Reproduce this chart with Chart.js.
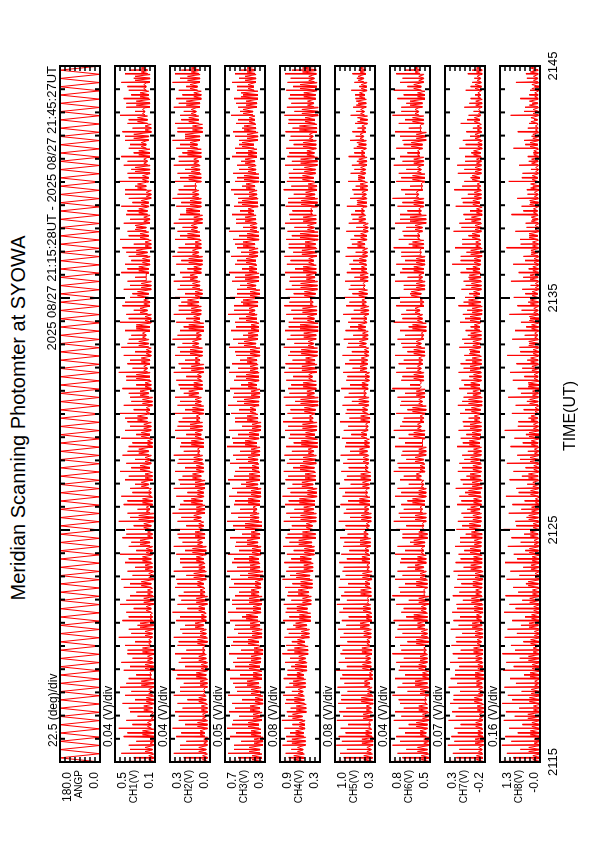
<!DOCTYPE html>
<html><head><meta charset="utf-8">
<script src="https://cdn.jsdelivr.net/npm/chart.js@4.4.0/dist/chart.umd.min.js"></script>
<style>
html,body{margin:0;padding:0;background:#fff;width:595px;height:842px;overflow:hidden;}
#land{position:absolute;left:0;top:0;width:842px;height:595px;transform-origin:0 0;transform:translateY(842px) rotate(-90deg);font-family:"Liberation Sans",Arial,sans-serif;color:#000;background:#fff;}
.t{position:absolute;white-space:nowrap;line-height:1;}
canvas{position:absolute;}
</style></head><body><div id="land"></div>
<script>
// ---- data (time in minutes after 21:15 UT) ----
const timeStart = 0, timeEnd = 30;
const scanCount = 84;
const timeTickLabels = ['2115','2125','2135','2145'];
const timeTickValues = [0, 10, 20, 30];
const title = 'Meridian Scanning Photomter at SYOWA';
const periodLabel = '2025 08/27 21:15:28UT - 2025 08/27 21:45:27UT';
const xTitle = 'TIME(UT)';
const panelNames = ['ANGP','CH1(V)','CH2(V)','CH3(V)','CH4(V)','CH5(V)','CH6(V)','CH7(V)','CH8(V)'];
const divLabels = ['22.5 (deg)/div','0.04 (V)/div','0.04 (V)/div','0.05 (V)/div','0.08 (V)/div','0.08 (V)/div','0.04 (V)/div','0.07 (V)/div','0.16 (V)/div'];
const maxLabels = ['180.0','0.5','0.3','0.7','0.9','1.0','0.8','0.3','1.3'];
const minLabels = ['0.0','0.1','0.0','0.3','0.3','0.3','0.5','-0.2','-0.0'];
const panelMin = [0, 0.14, 0.00, 0.30, 0.30, 0.34, 0.50, -0.24, -0.01];
const panelMax = [180, 0.46, 0.32, 0.70, 0.94, 0.98, 0.82, 0.32, 1.27];
const panelDivs = [8, 8, 8, 8, 8, 8, 8, 8, 8];

// scan angle (deg), two samples per scan + final
const angp = [0,180,0,180,0,180,0,180,0,180,0,180,0,180,0,180,0,180,0,180,0,180,0,180,
0,180,0,180,0,180,0,180,0,180,0,180,0,180,0,180,0,180,0,180,0,180,0,180,
0,180,0,180,0,180,0,180,0,180,0,180,0,180,0,180,0,180,0,180,0,180,0,180,
0,180,0,180,0,180,0,180,0,180,0,180,0,180,0,180,0,180,0,180,0,180,0,180,
0,180,0,180,0,180,0,180,0,180,0,180,0,180,0,180,0,180,0,180,0,180,0,180,
0,180,0,180,0,180,0,180,0,180,0,180,0,180,0,180,0,180,0,180,0,180,0,180,
0,180,0,180,0,180,0,180,0,180,0,180,0,180,0,180,0,180,0,180,0,180,0,180,0];

// per scan: north-horizon peak (Hi), south-horizon peak (S), overhead hump (Mid), floor (Lo)
const ch1Hi = [0.36,0.41,0.35,0.39,0.43,0.37,0.34,0.40,0.38,0.42,0.35,0.39,0.41,0.36,0.38,0.43,0.35,0.40,0.37,0.42,0.34,0.39,0.41,0.36,0.38,0.42,0.35,0.40,0.37,0.43,0.36,0.39,0.41,0.34,0.38,0.42,0.37,0.40,0.35,0.41,0.38,0.36,0.42,0.39,0.34,0.40,0.37,0.43,0.36,0.39,0.41,0.35,0.38,0.42,0.37,0.40,0.34,0.39,0.36,0.41,0.38,0.35,0.40,0.42,0.36,0.39,0.37,0.41,0.35,0.38,0.43,0.36,0.39,0.41,0.35,0.38,0.40,0.36,0.42,0.37,0.39,0.35,0.41,0.38];
const ch1S = [0.31,0.34,0.29,0.36,0.32,0.28,0.35,0.30,0.33,0.37,0.29,0.34,0.32,0.36,0.30,0.33,0.28,0.35,0.31,0.37,0.29,0.34,0.32,0.30,0.35,0.29,0.33,0.37,0.31,0.34,0.28,0.36,0.32,0.30,0.35,0.33,0.30,0.36,0.32,0.29,0.34,0.38,0.31,0.33,0.35,0.29,0.37,0.32,0.34,0.30,0.36,0.33,0.29,0.35,0.31,0.38,0.32,0.34,0.30,0.36,0.33,0.37,0.31,0.35,0.29,0.34,0.36,0.32,0.38,0.30,0.35,0.33,0.36,0.31,0.34,0.38,0.32,0.35,0.30,0.37,0.33,0.36,0.31,0.34];
const ch1Mid = [0.19,0.22,0.18,0.24,0.20,0.17,0.23,0.21,0.19,0.25,0.18,0.22,0.20,0.24,0.19,0.22,0.26,0.18,0.21,0.23,0.20,0.25,0.19,0.22,0.24,0.21,0.26,0.20,0.23,0.27,0.21,0.24,0.19,0.25,0.22,0.26,0.22,0.27,0.20,0.25,0.23,0.28,0.21,0.24,0.26,0.22,0.29,0.23,0.25,0.21,0.27,0.24,0.29,0.22,0.26,0.23,0.28,0.25,0.21,0.27,0.24,0.29,0.22,0.26,0.30,0.23,0.27,0.25,0.21,0.28,0.24,0.30,0.23,0.27,0.25,0.31,0.22,0.28,0.24,0.29,0.26,0.23,0.30,0.25];
const ch1Lo = [0.15,0.16,0.15,0.15,0.17,0.15,0.16,0.15,0.16,0.15,0.17,0.15,0.16,0.15,0.17,0.16,0.15,0.16,0.17,0.15,0.16,0.17,0.15,0.16,0.17,0.16,0.18,0.16,0.17,0.15,0.18,0.16,0.17,0.19,0.16,0.18,0.17,0.19,0.16,0.18,0.17,0.20,0.18,0.16,0.19,0.17,0.18,0.20,0.18,0.17,0.19,0.21,0.18,0.17,0.20,0.18,0.19,0.17,0.21,0.19,0.18,0.20,0.17,0.19,0.21,0.18,0.20,0.19,0.17,0.21,0.19,0.18,0.20,0.18,0.21,0.19,0.17,0.20,0.22,0.18,0.19,0.21,0.18,0.20];

const ch2Hi = [0.26,0.29,0.24,0.27,0.30,0.25,0.28,0.26,0.29,0.24,0.27,0.30,0.25,0.28,0.26,0.29,0.24,0.27,0.30,0.26,0.25,0.28,0.27,0.29,0.24,0.27,0.29,0.25,0.28,0.26,0.30,0.24,0.27,0.29,0.25,0.28,0.26,0.29,0.24,0.27,0.28,0.25,0.30,0.26,0.28,0.24,0.27,0.29,0.25,0.28,0.26,0.30,0.24,0.27,0.29,0.25,0.28,0.26,0.29,0.24,0.27,0.30,0.25,0.28,0.26,0.29,0.24,0.27,0.30,0.25,0.28,0.26,0.29,0.25,0.27,0.30,0.26,0.28,0.24,0.29,0.27,0.25,0.30,0.28];
const ch2S = [0.21,0.24,0.19,0.23,0.20,0.25,0.22,0.18,0.24,0.21,0.26,0.20,0.23,0.19,0.25,0.22,0.20,0.24,0.18,0.23,0.21,0.26,0.19,0.22,0.24,0.20,0.22,0.26,0.19,0.23,0.25,0.21,0.18,0.24,0.22,0.20,0.25,0.21,0.23,0.19,0.26,0.22,0.20,0.24,0.21,0.25,0.19,0.23,0.20,0.24,0.22,0.26,0.21,0.19,0.25,0.23,0.20,0.24,0.22,0.18,0.23,0.26,0.20,0.24,0.22,0.25,0.19,0.23,0.26,0.21,0.24,0.20,0.25,0.22,0.24,0.20,0.26,0.23,0.21,0.25,0.22,0.19,0.24,0.23];
const ch2Mid = [0.06,0.09,0.05,0.08,0.10,0.06,0.07,0.09,0.05,0.08,0.11,0.07,0.09,0.06,0.10,0.08,0.12,0.07,0.09,0.11,0.08,0.10,0.13,0.09,0.11,0.14,0.10,0.12,0.09,0.13,0.11,0.15,0.10,0.12,0.14,0.11,0.13,0.10,0.15,0.12,0.16,0.11,0.14,0.12,0.17,0.13,0.10,0.15,0.12,0.16,0.14,0.11,0.17,0.13,0.15,0.18,0.12,0.14,0.16,0.13,0.17,0.14,0.12,0.18,0.15,0.13,0.19,0.16,0.14,0.12,0.17,0.15,0.13,0.18,0.16,0.20,0.14,0.17,0.15,0.19,0.13,0.16,0.18,0.15];
const ch2Lo = [0.02,0.03,0.02,0.04,0.02,0.03,0.02,0.03,0.04,0.02,0.03,0.02,0.03,0.04,0.02,0.03,0.05,0.03,0.04,0.02,0.04,0.05,0.03,0.04,0.05,0.03,0.06,0.04,0.05,0.07,0.04,0.06,0.05,0.04,0.07,0.05,0.06,0.08,0.05,0.07,0.06,0.08,0.05,0.07,0.09,0.06,0.07,0.05,0.08,0.06,0.09,0.07,0.05,0.08,0.07,0.09,0.06,0.08,0.10,0.07,0.06,0.09,0.07,0.08,0.10,0.06,0.08,0.07,0.09,0.11,0.07,0.08,0.09,0.07,0.10,0.08,0.06,0.09,0.11,0.08,0.07,0.10,0.08,0.09];

const ch3Hi = [0.64,0.67,0.61,0.65,0.68,0.62,0.66,0.63,0.67,0.60,0.65,0.68,0.62,0.66,0.64,0.68,0.61,0.65,0.67,0.63,0.60,0.66,0.64,0.68,0.63,0.67,0.60,0.65,0.62,0.68,0.64,0.61,0.66,0.63,0.67,0.60,0.65,0.62,0.68,0.63,0.66,0.60,0.64,0.67,0.62,0.65,0.61,0.66,0.63,0.59,0.66,0.62,0.64,0.60,0.67,0.61,0.65,0.58,0.63,0.66,0.60,0.64,0.58,0.62,0.66,0.59,0.63,0.61,0.57,0.64,0.60,0.62,0.58,0.63,0.60,0.56,0.62,0.59,0.64,0.57,0.61,0.58,0.63,0.60];
const ch3S = [0.57,0.61,0.54,0.59,0.63,0.56,0.60,0.53,0.58,0.62,0.55,0.60,0.58,0.54,0.62,0.57,0.60,0.53,0.59,0.63,0.56,0.61,0.55,0.58,0.61,0.56,0.59,0.53,0.62,0.57,0.55,0.60,0.58,0.54,0.61,0.56,0.59,0.55,0.62,0.57,0.53,0.60,0.56,0.58,0.61,0.54,0.59,0.57,0.55,0.60,0.57,0.52,0.59,0.56,0.61,0.54,0.58,0.55,0.60,0.53,0.58,0.54,0.60,0.56,0.52,0.59,0.55,0.57,0.61,0.53,0.58,0.56,0.54,0.59,0.56,0.60,0.53,0.57,0.55,0.59,0.52,0.58,0.56,0.54];
const ch3Mid = [0.43,0.46,0.41,0.44,0.47,0.42,0.45,0.40,0.44,0.48,0.42,0.46,0.44,0.41,0.47,0.43,0.45,0.49,0.42,0.46,0.44,0.40,0.47,0.45,0.46,0.43,0.48,0.44,0.50,0.45,0.42,0.47,0.44,0.49,0.46,0.43,0.47,0.44,0.50,0.46,0.43,0.48,0.45,0.51,0.44,0.47,0.49,0.45,0.48,0.45,0.51,0.47,0.44,0.49,0.46,0.52,0.45,0.48,0.50,0.46,0.49,0.46,0.52,0.48,0.45,0.50,0.47,0.53,0.46,0.49,0.51,0.47,0.50,0.47,0.53,0.48,0.51,0.46,0.52,0.49,0.54,0.47,0.50,0.48];
const ch3Lo = [0.33,0.35,0.32,0.34,0.36,0.33,0.35,0.32,0.34,0.36,0.33,0.35,0.34,0.32,0.36,0.33,0.35,0.37,0.34,0.33,0.36,0.34,0.32,0.35,0.36,0.34,0.37,0.35,0.33,0.36,0.38,0.35,0.34,0.37,0.35,0.36,0.37,0.35,0.38,0.36,0.34,0.37,0.39,0.36,0.35,0.38,0.36,0.37,0.38,0.35,0.39,0.37,0.36,0.38,0.40,0.37,0.35,0.39,0.36,0.38,0.39,0.37,0.40,0.36,0.38,0.39,0.41,0.37,0.38,0.40,0.36,0.39,0.40,0.38,0.41,0.37,0.39,0.40,0.42,0.38,0.37,0.41,0.39,0.40];

const ch4Hi = [0.88,0.85,0.90,0.84,0.87,0.91,0.83,0.86,0.89,0.85,0.88,0.82,0.86,0.90,0.84,0.87,0.83,0.89,0.85,0.88,0.82,0.86,0.90,0.84,0.87,0.83,0.89,0.85,0.81,0.88,0.84,0.86,0.90,0.82,0.85,0.88,0.83,0.87,0.84,0.80,0.86,0.89,0.82,0.85,0.88,0.81,0.84,0.87,0.85,0.81,0.88,0.83,0.86,0.80,0.84,0.87,0.82,0.85,0.79,0.86,0.83,0.87,0.80,0.84,0.82,0.86,0.79,0.85,0.81,0.88,0.83,0.80,0.86,0.82,0.84,0.79,0.85,0.81,0.87,0.83,0.80,0.84,0.82,0.86];
const ch4S = [0.80,0.76,0.83,0.78,0.74,0.81,0.77,0.84,0.75,0.79,0.82,0.76,0.78,0.82,0.75,0.80,0.73,0.79,0.83,0.76,0.81,0.74,0.78,0.80,0.76,0.72,0.79,0.82,0.75,0.78,0.71,0.80,0.77,0.74,0.81,0.73,0.79,0.75,0.72,0.78,0.81,0.74,0.77,0.70,0.79,0.76,0.73,0.80,0.74,0.78,0.71,0.77,0.80,0.73,0.76,0.79,0.72,0.75,0.78,0.70,0.77,0.73,0.80,0.75,0.71,0.78,0.74,0.81,0.72,0.76,0.79,0.73,0.75,0.79,0.72,0.77,0.74,0.80,0.71,0.76,0.78,0.73,0.77,0.75];
const ch4Mid = [0.72,0.66,0.75,0.69,0.63,0.74,0.68,0.71,0.65,0.73,0.67,0.70,0.64,0.71,0.66,0.60,0.69,0.63,0.67,0.58,0.65,0.61,0.68,0.56,0.62,0.55,0.64,0.58,0.52,0.61,0.56,0.63,0.50,0.59,0.54,0.62,0.57,0.49,0.60,0.53,0.58,0.47,0.55,0.61,0.51,0.57,0.48,0.59,0.53,0.60,0.49,0.56,0.62,0.50,0.58,0.46,0.55,0.61,0.52,0.57,0.48,0.59,0.54,0.62,0.50,0.57,0.45,0.60,0.53,0.49,0.58,0.55,0.61,0.51,0.57,0.47,0.63,0.54,0.59,0.50,0.56,0.62,0.48,0.58];
const ch4Lo = [0.55,0.57,0.53,0.56,0.54,0.58,0.52,0.55,0.57,0.53,0.56,0.51,0.53,0.49,0.54,0.47,0.51,0.45,0.50,0.44,0.48,0.42,0.46,0.41,0.44,0.39,0.43,0.37,0.42,0.36,0.40,0.38,0.35,0.41,0.37,0.39,0.36,0.40,0.34,0.38,0.35,0.41,0.37,0.33,0.39,0.36,0.42,0.35,0.38,0.34,0.40,0.36,0.33,0.39,0.35,0.41,0.37,0.34,0.38,0.36,0.40,0.35,0.37,0.33,0.39,0.36,0.42,0.34,0.38,0.35,0.40,0.37,0.34,0.39,0.36,0.41,0.35,0.38,0.33,0.40,0.37,0.35,0.39,0.36];

const ch5Hi = [0.94,0.90,0.96,0.92,0.89,0.95,0.91,0.93,0.88,0.94,0.90,0.96,0.92,0.89,0.94,0.90,0.93,0.87,0.91,0.95,0.88,0.92,0.90,0.86,0.91,0.88,0.85,0.90,0.87,0.92,0.84,0.89,0.86,0.91,0.83,0.88,0.85,0.89,0.82,0.87,0.84,0.90,0.81,0.86,0.83,0.88,0.80,0.85,0.82,0.86,0.79,0.84,0.81,0.77,0.85,0.80,0.83,0.76,0.82,0.79,0.75,0.81,0.78,0.73,0.80,0.76,0.72,0.79,0.74,0.70,0.77,0.73,0.71,0.76,0.68,0.74,0.70,0.66,0.73,0.69,0.65,0.72,0.67,0.70];
const ch5S = [0.84,0.79,0.87,0.81,0.77,0.85,0.80,0.88,0.78,0.83,0.86,0.79,0.82,0.86,0.78,0.84,0.80,0.76,0.85,0.79,0.83,0.77,0.81,0.84,0.79,0.75,0.83,0.78,0.81,0.74,0.80,0.77,0.82,0.73,0.79,0.76,0.78,0.74,0.80,0.72,0.77,0.75,0.79,0.71,0.76,0.74,0.78,0.70,0.75,0.71,0.77,0.69,0.74,0.72,0.68,0.75,0.70,0.73,0.67,0.72,0.69,0.65,0.71,0.67,0.64,0.70,0.66,0.62,0.68,0.65,0.61,0.67,0.63,0.67,0.60,0.65,0.62,0.58,0.64,0.61,0.66,0.59,0.63,0.60];
const ch5Mid = [0.52,0.47,0.55,0.49,0.44,0.53,0.48,0.56,0.46,0.51,0.43,0.54,0.49,0.55,0.47,0.52,0.58,0.48,0.53,0.46,0.57,0.50,0.54,0.47,0.55,0.50,0.58,0.52,0.48,0.56,0.51,0.59,0.49,0.54,0.57,0.50,0.53,0.59,0.51,0.56,0.49,0.57,0.54,0.60,0.52,0.55,0.50,0.58,0.56,0.51,0.59,0.54,0.61,0.52,0.57,0.55,0.60,0.53,0.58,0.56,0.59,0.54,0.62,0.57,0.53,0.60,0.56,0.63,0.55,0.58,0.61,0.57,0.60,0.56,0.63,0.58,0.55,0.62,0.57,0.64,0.59,0.56,0.61,0.58];
const ch5Lo = [0.38,0.40,0.37,0.39,0.41,0.38,0.40,0.37,0.39,0.42,0.38,0.40,0.41,0.39,0.42,0.40,0.43,0.39,0.41,0.44,0.40,0.42,0.39,0.43,0.42,0.44,0.41,0.45,0.43,0.40,0.44,0.42,0.46,0.43,0.41,0.45,0.44,0.46,0.43,0.47,0.45,0.42,0.46,0.44,0.48,0.45,0.43,0.47,0.46,0.44,0.48,0.45,0.49,0.47,0.44,0.48,0.46,0.50,0.45,0.47,0.48,0.46,0.50,0.47,0.45,0.49,0.51,0.47,0.48,0.46,0.50,0.49,0.47,0.50,0.48,0.52,0.49,0.46,0.51,0.48,0.50,0.47,0.52,0.49];

const ch6Hi = [0.79,0.76,0.80,0.77,0.75,0.79,0.78,0.74,0.80,0.76,0.78,0.75,0.77,0.80,0.74,0.78,0.76,0.79,0.73,0.77,0.80,0.75,0.78,0.76,0.74,0.78,0.76,0.72,0.77,0.79,0.75,0.73,0.78,0.76,0.74,0.79,0.76,0.73,0.78,0.75,0.79,0.72,0.77,0.74,0.76,0.80,0.73,0.77,0.75,0.78,0.72,0.76,0.74,0.79,0.73,0.77,0.75,0.71,0.78,0.74,0.77,0.73,0.79,0.75,0.72,0.78,0.74,0.76,0.80,0.73,0.77,0.75,0.79,0.74,0.77,0.72,0.78,0.75,0.80,0.73,0.76,0.79,0.74,0.77];
const ch6S = [0.72,0.69,0.74,0.70,0.67,0.73,0.71,0.75,0.68,0.72,0.70,0.74,0.71,0.73,0.68,0.72,0.75,0.69,0.71,0.67,0.74,0.70,0.72,0.68,0.73,0.70,0.66,0.72,0.69,0.74,0.71,0.68,0.73,0.67,0.71,0.75,0.69,0.72,0.70,0.67,0.74,0.71,0.68,0.73,0.70,0.66,0.72,0.69,0.71,0.68,0.73,0.70,0.67,0.72,0.69,0.74,0.66,0.71,0.68,0.72,0.70,0.73,0.67,0.71,0.69,0.74,0.68,0.72,0.70,0.66,0.73,0.69,0.72,0.68,0.71,0.74,0.67,0.70,0.73,0.69,0.71,0.68,0.72,0.70];
const ch6Mid = [0.57,0.60,0.55,0.58,0.61,0.56,0.59,0.54,0.58,0.62,0.56,0.59,0.58,0.55,0.61,0.57,0.60,0.63,0.57,0.59,0.55,0.61,0.58,0.62,0.60,0.57,0.63,0.59,0.56,0.62,0.58,0.64,0.59,0.57,0.61,0.58,0.62,0.59,0.56,0.63,0.60,0.58,0.64,0.59,0.61,0.57,0.63,0.60,0.59,0.63,0.61,0.57,0.64,0.60,0.62,0.58,0.65,0.61,0.59,0.63,0.61,0.58,0.64,0.60,0.62,0.66,0.59,0.63,0.61,0.57,0.64,0.60,0.63,0.60,0.65,0.61,0.58,0.64,0.62,0.66,0.60,0.63,0.59,0.62];
const ch6Lo = [0.51,0.52,0.51,0.53,0.52,0.51,0.52,0.53,0.51,0.52,0.51,0.53,0.52,0.53,0.51,0.52,0.54,0.52,0.53,0.51,0.54,0.52,0.53,0.55,0.53,0.55,0.54,0.52,0.55,0.53,0.56,0.54,0.53,0.55,0.57,0.54,0.55,0.53,0.56,0.54,0.57,0.55,0.53,0.56,0.54,0.58,0.55,0.57,0.56,0.54,0.57,0.55,0.53,0.56,0.58,0.55,0.57,0.54,0.56,0.55,0.54,0.57,0.55,0.58,0.56,0.53,0.57,0.55,0.59,0.56,0.54,0.57,0.55,0.58,0.56,0.53,0.57,0.55,0.59,0.56,0.54,0.57,0.55,0.58];

const ch7Hi = [0.26,0.21,0.28,0.23,0.19,0.27,0.22,0.25,0.20,0.27,0.24,0.18,0.25,0.21,0.23,0.17,0.24,0.20,0.22,0.16,0.21,0.19,0.15,0.20,0.17,0.13,0.18,0.11,0.16,0.14,0.09,0.15,0.12,0.17,0.10,0.14,0.12,0.08,0.15,0.10,0.13,0.07,0.11,0.14,0.06,0.12,0.09,0.13,0.10,0.05,0.12,0.08,0.03,0.11,0.07,0.13,0.04,0.09,0.06,0.10,0.22,0.10,0.18,0.08,0.20,0.12,0.06,0.17,0.09,0.19,0.05,0.14,0.15,0.04,0.12,0.07,0.02,0.10,-0.01,0.05,-0.04,0.03,-0.06,0.00];
const ch7S = [0.16,0.12,0.19,0.14,0.10,0.17,0.13,0.20,0.11,0.15,0.18,0.12,0.14,0.10,0.16,0.08,0.13,0.11,0.15,0.07,0.12,0.09,0.14,0.06,0.10,0.05,0.11,0.03,0.08,0.06,0.01,0.09,0.04,0.07,0.02,0.08,0.05,0.00,0.07,0.02,0.06,-0.01,0.04,0.08,0.01,0.05,-0.02,0.06,0.03,-0.03,0.05,0.00,-0.04,0.04,0.01,0.06,-0.02,0.03,-0.01,0.02,0.10,0.02,0.08,-0.01,0.09,0.04,-0.03,0.07,0.00,0.08,-0.04,0.05,0.04,-0.05,0.03,-0.03,-0.07,0.01,-0.08,-0.02,-0.10,-0.04,-0.09,-0.06];
const ch7Mid = [-0.12,-0.15,-0.10,-0.14,-0.11,-0.16,-0.13,-0.09,-0.15,-0.12,-0.10,-0.14,-0.11,-0.08,-0.13,-0.10,-0.06,-0.12,-0.09,-0.05,-0.11,-0.07,-0.10,-0.04,-0.08,-0.03,-0.09,-0.05,-0.02,-0.07,-0.04,-0.08,-0.01,-0.06,-0.03,-0.07,-0.04,-0.08,-0.02,-0.06,-0.03,-0.09,-0.05,-0.01,-0.07,-0.04,-0.08,-0.03,-0.06,-0.02,-0.07,-0.04,-0.09,-0.03,-0.06,-0.01,-0.08,-0.05,-0.02,-0.07,-0.09,-0.04,-0.11,-0.06,-0.10,-0.05,-0.12,-0.07,-0.09,-0.13,-0.06,-0.10,-0.12,-0.08,-0.14,-0.10,-0.13,-0.09,-0.15,-0.11,-0.14,-0.10,-0.13,-0.12];
const ch7Lo = [-0.21,-0.20,-0.22,-0.21,-0.20,-0.21,-0.22,-0.20,-0.21,-0.20,-0.22,-0.21,-0.20,-0.21,-0.19,-0.21,-0.20,-0.19,-0.21,-0.20,-0.19,-0.20,-0.21,-0.19,-0.20,-0.18,-0.19,-0.20,-0.18,-0.19,-0.17,-0.19,-0.18,-0.20,-0.18,-0.19,-0.18,-0.19,-0.17,-0.18,-0.19,-0.17,-0.18,-0.20,-0.18,-0.17,-0.19,-0.18,-0.19,-0.17,-0.18,-0.19,-0.17,-0.18,-0.20,-0.18,-0.17,-0.19,-0.18,-0.17,-0.18,-0.20,-0.18,-0.17,-0.19,-0.18,-0.20,-0.17,-0.19,-0.18,-0.17,-0.19,-0.19,-0.18,-0.20,-0.18,-0.19,-0.17,-0.18,-0.20,-0.18,-0.19,-0.18,-0.20];

const ch8Hi = [1.18,1.05,1.21,1.10,0.98,1.15,1.08,1.20,1.02,1.13,0.95,1.17,1.07,1.19,0.92,1.12,1.03,0.88,1.14,0.97,1.09,0.85,1.06,0.94,1.11,0.83,1.02,0.90,1.16,0.78,0.99,0.87,1.08,0.75,0.96,0.84,1.05,0.72,0.93,0.81,1.12,0.68,0.89,0.77,1.01,0.70,0.86,0.95,0.74,1.04,0.65,0.88,0.79,0.60,0.97,0.71,0.83,0.56,0.92,0.67,0.85,0.52,1.06,0.63,0.78,0.45,0.90,0.58,0.72,0.41,0.99,0.55,0.66,0.38,0.84,0.50,0.70,0.34,0.93,0.47,0.62,0.31,0.76,0.44];
const ch8S = [0.85,0.62,0.91,0.70,0.55,0.80,0.66,0.88,0.58,0.76,0.50,0.83,0.64,0.79,0.52,0.73,0.60,0.47,0.77,0.56,0.69,0.44,0.65,0.53,0.72,0.46,0.61,0.50,0.75,0.42,0.59,0.48,0.67,0.40,0.57,0.45,0.63,0.38,0.54,0.44,0.70,0.36,0.51,0.41,0.60,0.35,0.49,0.56,0.40,0.62,0.34,0.48,0.43,0.31,0.58,0.37,0.46,0.29,0.53,0.35,0.47,0.27,0.61,0.33,0.42,0.24,0.52,0.30,0.39,0.22,0.57,0.28,0.35,0.20,0.46,0.26,0.38,0.18,0.50,0.24,0.33,0.16,0.41,0.22];
const ch8Mid = [0.22,0.35,0.18,0.30,0.25,0.38,0.20,0.33,0.27,0.16,0.31,0.24,0.36,0.21,0.29,0.17,0.34,0.26,0.19,0.32,0.23,0.37,0.15,0.28,0.24,0.33,0.18,0.30,0.21,0.35,0.26,0.14,0.29,0.22,0.36,0.19,0.31,0.17,0.27,0.34,0.20,0.28,0.15,0.32,0.23,0.37,0.18,0.25,0.29,0.21,0.35,0.16,0.26,0.33,0.19,0.30,0.24,0.14,0.31,0.22,0.18,0.28,0.23,0.34,0.15,0.27,0.20,0.32,0.17,0.29,0.24,0.13,0.26,0.19,0.31,0.22,0.14,0.28,0.21,0.33,0.16,0.25,0.20,0.30];
const ch8Lo = [0.00,0.02,0.01,0.00,0.03,0.01,0.00,0.02,0.01,0.03,0.00,0.02,0.01,0.03,0.02,0.00,0.04,0.02,0.01,0.03,0.02,0.04,0.01,0.03,0.02,0.04,0.03,0.05,0.02,0.04,0.03,0.01,0.04,0.03,0.05,0.02,0.04,0.03,0.05,0.02,0.04,0.06,0.03,0.05,0.04,0.02,0.05,0.03,0.05,0.03,0.04,0.06,0.04,0.02,0.05,0.04,0.06,0.03,0.05,0.04,0.03,0.05,0.04,0.06,0.03,0.05,0.07,0.04,0.05,0.03,0.06,0.04,0.05,0.04,0.06,0.03,0.05,0.07,0.04,0.06,0.05,0.03,0.06,0.05];

const channelHi = [ch1Hi, ch2Hi, ch3Hi, ch4Hi, ch5Hi, ch6Hi, ch7Hi, ch8Hi];
const channelS = [ch1S, ch2S, ch3S, ch4S, ch5S, ch6S, ch7S, ch8S];
const channelMid = [ch1Mid, ch2Mid, ch3Mid, ch4Mid, ch5Mid, ch6Mid, ch7Mid, ch8Mid];
const channelLo = [ch1Lo, ch2Lo, ch3Lo, ch4Lo, ch5Lo, ch6Lo, ch7Lo, ch8Lo];

// ---- layout (landscape page, 842 x 595, shown rotated) ----
const L = {plotLeft: 80, plotWidth: 696, firstTop: 60, panelH: 40, panelGap: 55, pad: 6};
const land = document.getElementById('land');
const scanPeriod = (timeEnd - timeStart) / scanCount;
// where in each scan the readings fall: [fraction of scan, which reading]
const scanShape = [[0.00,'lo'],[0.05,'hi'],[0.10,'lo'],[0.28,'mid'],[0.45,'lo'],[0.50,'s'],[0.55,'lo'],[0.76,'mid'],[0.96,'lo']];

function angSeries() {
  return angp.map((v, k) => ({x: timeStart + k * scanPeriod / 2, y: v}));
}
function scanSeries(hi, s, mid, lo) {
  const src = {hi, s, mid, lo};
  const pts = [];
  for (let i = 0; i < scanCount; i++) {
    const t0 = timeStart + i * scanPeriod;
    scanShape.forEach(([f, key]) => pts.push({x: t0 + f * scanPeriod, y: src[key][i]}));
  }
  return pts;
}

function addText(txt, left, top, size, align) {
  const d = document.createElement('div');
  d.className = 't';
  d.textContent = txt;
  d.style.fontSize = size + 'px';
  d.style.top = top + 'px';
  if (align === 'right') { d.style.right = (842 - left) + 'px'; }
  else if (align === 'center') { d.style.left = left + 'px'; d.style.transform = 'translateX(-50%)'; }
  else { d.style.left = left + 'px'; }
  land.appendChild(d);
}

const framePlugin = {
  id: 'frame',
  afterDraw(chart, args, opts) {
    const {ctx, chartArea: a, scales} = chart;
    ctx.save();
    ctx.strokeStyle = '#000';
    ctx.lineWidth = 2;
    for (let m = timeStart; m <= timeEnd; m++) {
      const px = scales.x.getPixelForValue(m);
      const len = (m % 10 === 0) ? 10 : 5;
      ctx.beginPath();
      ctx.moveTo(px, a.top); ctx.lineTo(px, a.top + len);
      ctx.moveTo(px, a.bottom); ctx.lineTo(px, a.bottom - len);
      ctx.stroke();
    }
    ctx.lineWidth = 1.5;
    const y = scales.y;
    for (let k = 1; k < opts.divs; k++) {
      const v = y.min + (y.max - y.min) * k / opts.divs;
      const py = y.getPixelForValue(v);
      ctx.beginPath();
      ctx.moveTo(a.left, py); ctx.lineTo(a.left + 5, py);
      ctx.moveTo(a.right, py); ctx.lineTo(a.right - 5, py);
      ctx.stroke();
    }
    ctx.lineWidth = 2;
    ctx.strokeRect(a.left, a.top, a.right - a.left, a.bottom - a.top);
    ctx.restore();
  }
};

for (let p = 0; p < panelNames.length; p++) {
  const top = L.firstTop + p * L.panelGap;
  const cv = document.createElement('canvas');
  cv.width = L.plotWidth + 2 * L.pad;
  cv.height = L.panelH + 2 * L.pad;
  cv.style.left = (L.plotLeft - L.pad) + 'px';
  cv.style.top = (top - L.pad) + 'px';
  land.appendChild(cv);
  const data = p === 0 ? angSeries()
    : scanSeries(channelHi[p - 1], channelS[p - 1], channelMid[p - 1], channelLo[p - 1]);
  new Chart(cv, {
    type: 'line',
    data: {datasets: [{data, borderColor: '#ff0000', borderWidth: 1, pointRadius: 0, tension: 0, fill: false}]},
    options: {
      responsive: false, animation: false, events: [], devicePixelRatio: 1,
      layout: {padding: L.pad},
      plugins: {legend: {display: false}, tooltip: {enabled: false}, frame: {divs: panelDivs[p]}},
      scales: {
        x: {type: 'linear', min: timeStart, max: timeEnd, display: false},
        y: {type: 'linear', min: panelMin[p], max: panelMax[p], display: false}
      }
    },
    plugins: [framePlugin]
  });
  addText(divLabels[p], 95, top - 13, 12, 'left');
  addText(maxLabels[p], 70, top + 1, 12, 'right');
  addText(panelNames[p], 72, top + 14, 10, 'right');
  addText(minLabels[p], 70, top + 28, 12, 'right');
}

timeTickLabels.forEach((lab, i) => {
  const xx = L.plotLeft + L.plotWidth * (timeTickValues[i] - timeStart) / (timeEnd - timeStart);
  addText(lab, xx, 546, 13, 'center');
});
addText(title, 424, 8, 20, 'center');
addText(periodLabel, 776, 45, 13, 'right');
addText(xTitle, 426, 562, 16, 'center');
</script>
</body></html>
